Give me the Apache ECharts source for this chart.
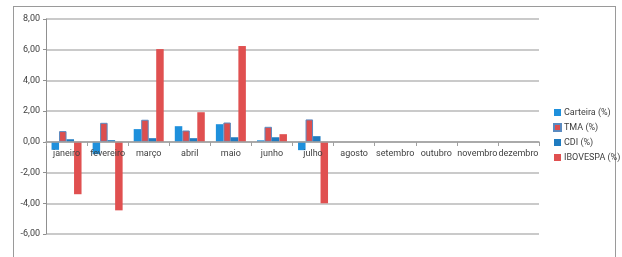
<!DOCTYPE html>
<html>
<head>
<meta charset="utf-8">
<script src="https://cdn.jsdelivr.net/npm/echarts@6/dist/echarts.min.js"></script>
<style>
    html, body { margin: 0; padding: 0; background: #fff; }
    #frame { position: absolute; left: 13px; top: 6px; width: 601px; height: 270px; border: 1px solid #9a9a9a; }
    #chart { position: absolute; left: 0; top: 0; width: 622px; height: 257px; }
</style>
</head>
<body>
<div id="frame"></div>
<div id="chart"></div>
<script>
    var months = ['janeiro', 'fevereiro', 'março', 'abril', 'maio', 'junho', 'julho', 'agosto', 'setembro', 'outubro', 'novembro', 'dezembro'];
    var carteira = [-0.52, -0.80, 0.83, 1.02, 1.15, 0.10, -0.54, null, null, null, null, null];
    var tma = [0.70, 1.24, 1.44, 0.74, 1.26, 0.98, 1.46, null, null, null, null, null];
    var cdi = [0.17, 0.11, 0.24, 0.24, 0.30, 0.30, 0.37, null, null, null, null, null];
    var ibovespa = [-3.41, -4.46, 6.04, 1.93, 6.24, 0.50, -4.00, null, null, null, null, null];

    var chart = echarts.init(document.getElementById('chart'));
    var font = 'Roboto';

    var option = {
        animation: false,
        grid: { left: 46, right: 83, top: 19, bottom: 23 },
        legend: {
            orient: 'vertical',
            left: 548,
            top: 103,
            itemWidth: 7,
            itemHeight: 7,
            itemGap: 6,
            icon: 'rect',
            textStyle: { fontFamily: font, fontSize: 9, color: '#404040', padding: [0, 0, 0, -2] },
            data: ['Carteira (%)', 'TMA (%)', 'CDI (%)', 'IBOVESPA (%)']
        },
        xAxis: {
            type: 'category',
            data: months,
            // Excel style: the category axis sits on the zero line (92px above the grid bottom)
            offset: -92,
            z: 3,
            axisLine: { onZero: false, lineStyle: { color: '#a0a0a0', width: 1.5 } },
            axisTick: { show: true, length: 4, lineStyle: { color: '#a0a0a0' } },
            axisLabel: { interval: 0, fontFamily: font, fontSize: 9, color: '#404040', margin: 7 }
        },
        yAxis: {
            type: 'value',
            min: -6,
            max: 8,
            interval: 2,
            axisLine: { show: true, lineStyle: { color: '#909090' } },
            axisTick: { show: true, length: 3, lineStyle: { color: '#909090' } },
            splitLine: { lineStyle: { color: '#b8b8b8', width: 1.5 } },
            axisLabel: {
                fontFamily: font, fontSize: 9, color: '#404040', margin: 6,
                formatter: function (v) { return v.toFixed(2).replace('.', ','); }
            }
        },
        series: [
            {
                name: 'Carteira (%)', type: 'bar', barGap: '0%', barCategoryGap: '27%',
                itemStyle: { color: '#1e90dc' },
                data: carteira
            },
            {
                name: 'TMA (%)', type: 'bar',
                itemStyle: { color: '#dc4e4e', borderColor: '#5a8ac0', borderWidth: 1 },
                data: tma
            },
            {
                name: 'CDI (%)', type: 'bar',
                itemStyle: { color: '#1f7bc0' },
                data: cdi
            },
            {
                name: 'IBOVESPA (%)', type: 'bar',
                itemStyle: { color: '#e05050' },
                data: ibovespa
            }
        ]
    };
    chart.setOption(option);
</script>
</body>
</html>
